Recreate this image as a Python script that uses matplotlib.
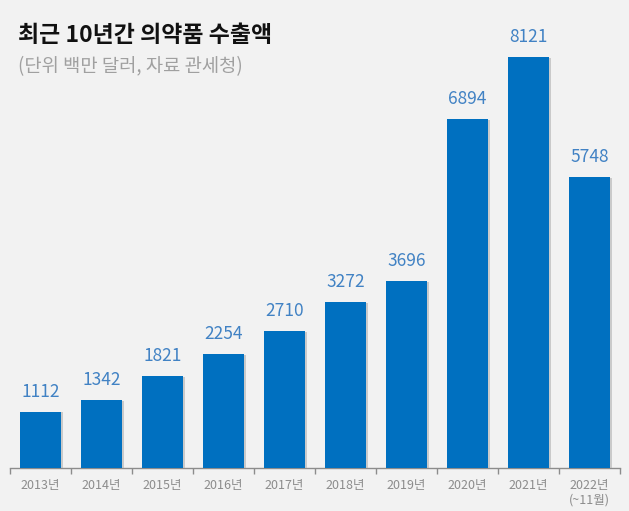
import matplotlib.pyplot as plt
import matplotlib.patheffects as pe
import numpy as np

plt.rcParams['font.family'] = ['Noto Sans CJK KR', 'DejaVu Sans']

years = ['2013년', '2014년', '2015년', '2016년', '2017년',
         '2018년', '2019년', '2020년', '2021년', '2022년\n(~11월)']
exports = [1112, 1342, 1821, 2254, 2710, 3272, 3696, 6894, 8121, 5748]

bg = '#f2f2f2'
bar_color = '#0070c0'

fig = plt.figure(figsize=(6.29, 5.11), dpi=100, facecolor=bg)
ax = fig.add_axes([10 / 629, 43 / 511, 610 / 629, 448 / 511], facecolor=bg)

x = np.arange(len(years))
bars = ax.bar(x, exports, width=0.66, color=bar_color, zorder=3)
for b in bars:
    b.set_path_effects([pe.SimplePatchShadow(offset=(1.5, -0.5), shadow_rgbFace='#b0b0b0', alpha=0.6),
                        pe.Normal()])

for xi, v in zip(x, exports):
    ax.annotate(str(v), (xi, v), xytext=(0, 8), textcoords='offset points',
                ha='center', va='bottom', fontsize=12.5, color='#4182c4')

ax.set_xlim(-0.5, len(years) - 0.5)
ax.set_ylim(0, 8121 * 448 / 411)

for s in ['top', 'right', 'left']:
    ax.spines[s].set_visible(False)
ax.spines['bottom'].set_color('#8c8c8c')
ax.spines['bottom'].set_linewidth(1)

ax.set_yticks([])
ax.set_xticks(x)
ax.set_xticklabels(years, fontsize=9, color='#8c8c8c', linespacing=1.15, va='top')
ax.tick_params(axis='x', which='major', length=0, pad=8)
ax.set_xticks(np.arange(-0.5, len(years)), minor=True)
ax.tick_params(axis='x', which='minor', length=4, color='#8c8c8c', width=1)

fig.text(18 / 629, 1 - 35 / 511, '최근 10년간 의약품 수출액', fontsize=16.5, fontweight='bold',
         color='#111111', va='center', ha='left')
fig.text(18 / 629, 1 - 67 / 511, '(단위 백만 달러, 자료 관세청)', fontsize=13.5,
         color='#a0a0a0', va='center', ha='left')

fig.savefig('out.png', dpi=100, facecolor=bg)
